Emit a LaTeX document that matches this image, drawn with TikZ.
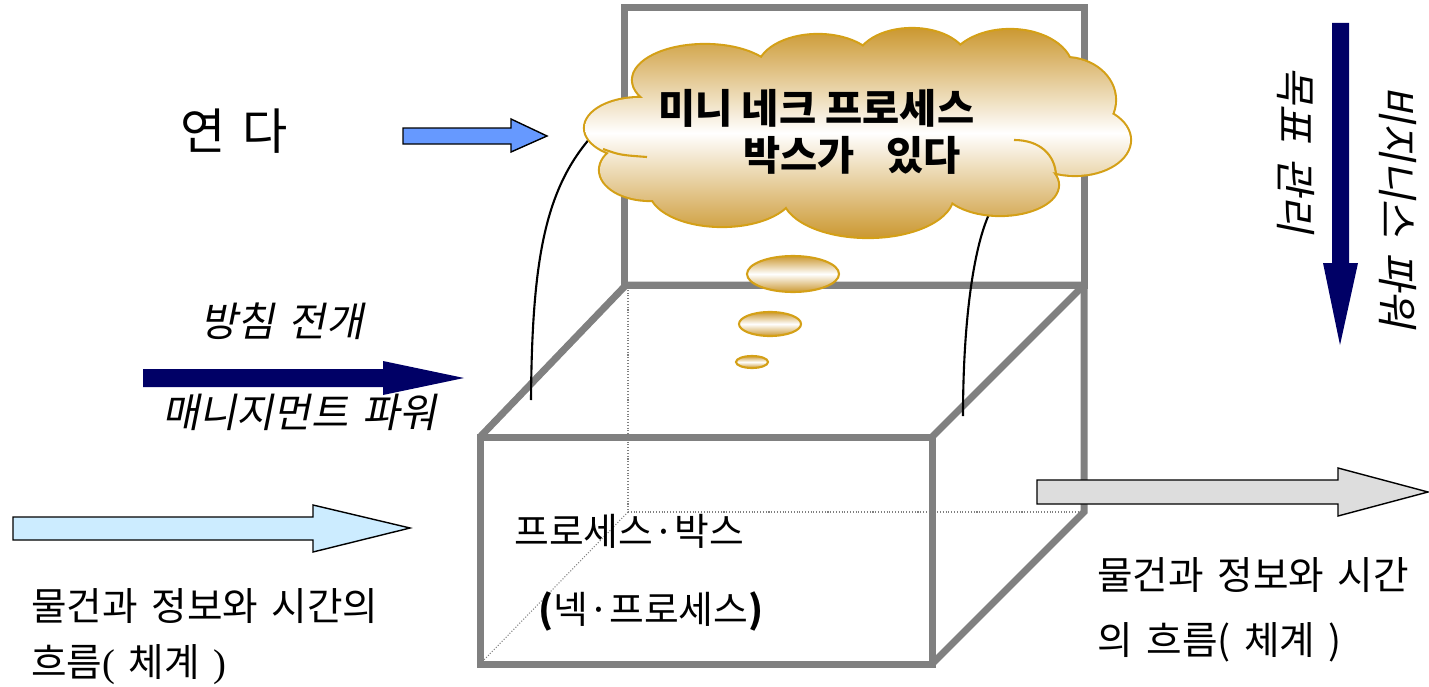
\documentclass[tikz,border=0pt]{standalone}
\usepackage{fontspec}
\setmainfont{Noto Sans CJK KR}[AutoFakeSlant=0.2]
\newfontfamily\parenfont{Liberation Serif}
\usetikzlibrary{shapes.geometric}

\definecolor{boxgray}{RGB}{128,128,128}
\definecolor{navyarrow}{RGB}{0,0,102}
\definecolor{openblue}{RGB}{102,153,255}
\definecolor{flowblue}{RGB}{204,236,255}
\definecolor{flowgray}{RGB}{221,221,221}
\definecolor{cloudgold}{RGB}{204,153,51}
\definecolor{cloudline}{RGB}{212,160,23}

% font size with somewhat wider word spaces
\newcommand{\kfont}[1]{\fontsize{#1}{#1}\selectfont\spaceskip=0.35em\relax}

% puffs of the cloud: x/y/x radius/y radius
\def\puffs{640/128/55/30, 650/170/50/30, 705/80/72/35, 818/70/60/35,
  912/62/55/33, 1010/70/62/40, 1065/100/50/42, 1075/140/55/35,
  1000/185/58/30, 868/195/85/42, 722/190/72/36, 860/130/200/70}

\tikzset{
  frameline/.style={draw=boxgray, line width=0.14cm, line join=miter},
  hidden/.style={draw=boxgray, densely dotted, line width=0.6pt},
  goldshade/.style={top color=cloudgold, bottom color=cloudgold, middle color=white},
  bubble/.style={ellipse, goldshade, draw=cloudline, line width=1.2pt, inner sep=0pt},
  callout/.style={draw=black, line width=1.2pt},
  blockarrow/.style={draw=black, line width=0.8pt},
  krtext/.style={inner sep=0pt, font=\kfont{22}},
  cloudtext/.style={inner sep=0pt, font=\fontsize{23}{23}\selectfont\bfseries},
}

\begin{document}
\begin{tikzpicture}[x=0.02cm,y=-0.02cm]
\useasboundingbox (0,0) rectangle (1429,686);

% hidden edges of the box
\draw[hidden] (628,287) -- (628,512) -- (1084,512);
\draw[hidden] (628,512) -- (480,664);

% back face drawn up as a frame
\draw[frameline] (624,8) rectangle (1084,285);

% front, top and right faces
\draw[frameline] (480,437) rectangle (932,664);
\draw[frameline] (480,437) -- (626,285) -- (1084,285) -- (1084,512) -- (932,664);
\draw[frameline] (932,437) -- (1084,285);

% lines from the box up to the cloud
\coordinate (tailL) at (531,400);
\coordinate (tailR) at (963,416);
\coordinate (tipL) at (591,137);
\coordinate (tipR) at (990,212);
\draw[callout] (tailL) .. controls (532,260) and (545,190) .. (tipL);
\draw[callout] (tailR) .. controls (963,330) and (972,250) .. (tipR);

% thought cloud: outline first, then the shaded puffs over it
\draw[cloudline, line width=2.4pt]
  foreach \cx/\cy/\rx/\ry in \puffs {(\cx,\cy) ellipse [x radius=\rx, y radius=\ry]};
\shade[goldshade]
  foreach \cx/\cy/\rx/\ry in \puffs {(\cx,\cy) ellipse [x radius=\rx, y radius=\ry]};
% inner folds
\draw[cloudline, line width=1.2pt] (603,149) .. controls (620,155) .. (647,157);
\draw[cloudline, line width=1.2pt] (1014,140) .. controls (1040,140) and (1055,155) .. (1056,175);
\node[cloudtext, anchor=west] (cloudtop) at (658,108) {미니 네크 프로세스};
\node[cloudtext, anchor=west] (cloudbottom) at (743,155) {박스가\hspace{0.78em}있다};

\node[bubble, minimum width=1.84cm, minimum height=0.72cm] (bubbleA) at (793,274) {};
\node[bubble, minimum width=1.24cm, minimum height=0.48cm] (bubbleB) at (770,324) {};
\node[bubble, minimum width=0.64cm, minimum height=0.24cm] (bubbleC) at (752,362) {};

% block arrows
\draw[blockarrow, fill=openblue] (403,128) -- (511,128) -- (511,119) -- (547,136)
  -- (511,152) -- (511,144) -- (403,144) -- cycle;
\fill[navyarrow] (143,369) -- (383,369) -- (383,361) -- (464,378)
  -- (383,395) -- (383,387) -- (143,387) -- cycle;
\fill[navyarrow] (1332,23) -- (1349,23) -- (1349,263) -- (1358,263)
  -- (1340,345) -- (1323,263) -- (1332,263) -- cycle;
\draw[blockarrow, fill=flowblue] (13,517) -- (313,517) -- (313,505) -- (410,528)
  -- (313,552) -- (313,540) -- (13,540) -- cycle;
\draw[blockarrow, fill=flowgray] (1037,480) -- (1338,480) -- (1338,468) -- (1428,492)
  -- (1338,516) -- (1338,504) -- (1037,504) -- cycle;

% labels
\node[krtext, anchor=west, font=\kfont{28}] (open) at (180,131) {연 다};
\node[krtext, anchor=west, font=\kfont{23}\itshape] (policy) at (200,321) {방침 전개};
\node[krtext, anchor=west, font=\kfont{23}\itshape] (mgmt) at (162,412) {매니지먼트 파워};
\node[krtext, anchor=west] (flowinA) at (31,606) {물건과 정보와 시간의};
\node[krtext, anchor=west] (flowinB) at (31,665) {흐름{\parenfont(} 체계 {\parenfont)}};
\node[krtext, anchor=west, font=\kfont{21.5}] (boxname) at (514,531) {프로세스·박스};
\node[krtext, anchor=west, font=\kfont{21.5}] (boxsub) at (538,611) {\textbf{(}넥·프로세스\textbf{)}};
\node[krtext, anchor=west] (flowoutA) at (1097,575) {물건과 정보와 시간};
\node[krtext, anchor=west] (flowoutB) at (1097,642) {의 흐름( 체계 )};
\node[krtext, rotate=-90, font=\kfont{23.5}\itshape] (goal) at (1296,150) {목표 관리};
\node[krtext, rotate=-90, font=\kfont{23.5}\itshape] (biz) at (1398,207) {비지니스 파워};
\end{tikzpicture}
\end{document}
